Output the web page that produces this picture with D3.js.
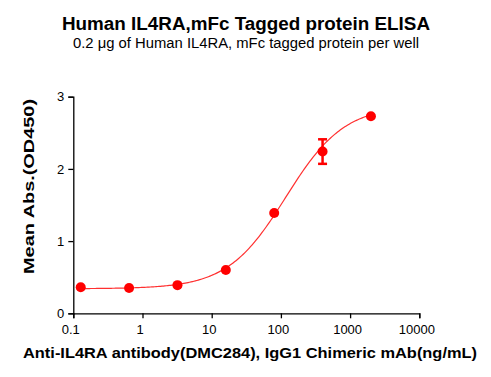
<!DOCTYPE html>
<html>
<head>
<meta charset="utf-8">
<script src="https://cdn.jsdelivr.net/npm/d3@7"></script>
<style>
body{margin:0;background:#fff;}
svg{display:block;font-family:Arial,"Liberation Sans",sans-serif;}
</style>
</head>
<body>
<script>
// measured points (ng/mL, OD450)
var conc = [0.128, 0.64, 3.2, 16, 80, 400, 2000];
var od = [0.36, 0.35, 0.39, 0.60, 1.39, 2.24, 2.73];
var sem = [0, 0, 0, 0, 0, 0.17, 0];
var xTicks = [0.1, 1, 10, 100, 1000, 10000];
var yTicks = [0, 1, 2, 3];
// 4PL fit
var fitBottom = 0.34, fitTop = 2.88, fitEC50 = 118, fitHill = 1.03;

var width = 491, height = 377;
var svg = d3.select("body").append("svg")
    .attr("width", width).attr("height", height);

var x = d3.scaleLog().domain([0.1, 10000]).range([73.3, 419.3]);
var y = d3.scaleLinear().domain([0, 3]).range([313.3, 96.7]);

var xAxis = d3.axisBottom(x).tickValues(xTicks).tickFormat(function(d){ return d; }).tickSizeOuter(0).tickSize(5);
var yAxis = d3.axisLeft(y).tickValues(yTicks).tickFormat(d3.format("d")).tickSizeOuter(0).tickSize(5);

var gx = svg.append("g").attr("transform", "translate(0,313.3)").call(xAxis);
var gy = svg.append("g").attr("transform", "translate(73.3,0)").call(yAxis);
[gx, gy].forEach(function(g){
  g.select(".domain").attr("stroke", "#000").attr("stroke-width", 1.3);
  g.selectAll(".tick line").attr("stroke", "#000").attr("stroke-width", 1.3);
  g.selectAll(".tick text").attr("fill", "#000").style("font-size", "13px").style("font-family", "Arial,'Liberation Sans',sans-serif");
});
gx.selectAll(".tick text").attr("dy", "0.95em").attr("dx", "-3px");
gy.selectAll(".tick text").attr("dx", "-1px");

// fitted curve
function fourPL(c){
  return fitBottom + (fitTop - fitBottom) / (1 + Math.pow(fitEC50 / c, fitHill));
}
var curveX = d3.range(0, 201).map(function(i){
  return Math.pow(10, Math.log10(conc[0]) + i * (Math.log10(conc[conc.length-1]) - Math.log10(conc[0])) / 200);
});
svg.append("path")
  .datum(curveX)
  .attr("fill", "none")
  .attr("stroke", "#ff3030")
  .attr("stroke-width", 1.2)
  .attr("d", d3.line().x(function(d){ return x(d); }).y(function(d){ return y(fourPL(d)); }));

// error bars
var eb = svg.selectAll(".eb").data(conc.map(function(c,i){ return {c:c, v:od[i], e:sem[i]}; }).filter(function(d){ return d.e > 0; }))
  .enter().append("g").attr("stroke", "#ff0000").attr("stroke-width", 2.5);
eb.append("line").attr("x1", function(d){ return x(d.c); }).attr("x2", function(d){ return x(d.c); })
  .attr("y1", function(d){ return y(d.v - d.e); }).attr("y2", function(d){ return y(d.v + d.e); });
eb.append("line").attr("x1", function(d){ return x(d.c) - 4.5; }).attr("x2", function(d){ return x(d.c) + 4.5; })
  .attr("y1", function(d){ return y(d.v + d.e); }).attr("y2", function(d){ return y(d.v + d.e); });
eb.append("line").attr("x1", function(d){ return x(d.c) - 4.5; }).attr("x2", function(d){ return x(d.c) + 4.5; })
  .attr("y1", function(d){ return y(d.v - d.e); }).attr("y2", function(d){ return y(d.v - d.e); });

// points
svg.selectAll(".pt").data(conc).enter().append("circle")
  .attr("cx", function(d){ return x(d); })
  .attr("cy", function(d,i){ return y(od[i]); })
  .attr("r", 5)
  .attr("fill", "#ff0000");

// titles
svg.append("text").attr("x", 62).attr("y", 30)
  .attr("textLength", 368).attr("lengthAdjust", "spacingAndGlyphs")
  .style("font-weight", "bold").style("font-size", "17.5px").text("Human IL4RA,mFc Tagged protein ELISA");
svg.append("text").attr("x", 73).attr("y", 48)
  .attr("textLength", 346).attr("lengthAdjust", "spacingAndGlyphs")
  .style("font-size", "14px").text("0.2 \u03bcg of Human IL4RA, mFc tagged protein per well");
svg.append("text").attr("x", 23).attr("y", 358)
  .attr("textLength", 454).attr("lengthAdjust", "spacingAndGlyphs")
  .style("font-weight", "bold").style("font-size", "15.5px").text("Anti-IL4RA antibody(DMC284), IgG1 Chimeric mAb(ng/mL)");
svg.append("text").attr("transform", "translate(34,274) rotate(-90)")
  .attr("textLength", 175).attr("lengthAdjust", "spacingAndGlyphs")
  .style("font-weight", "bold").style("font-size", "15.5px").text("Mean Abs.(OD450)");
</script>
</body>
</html>
